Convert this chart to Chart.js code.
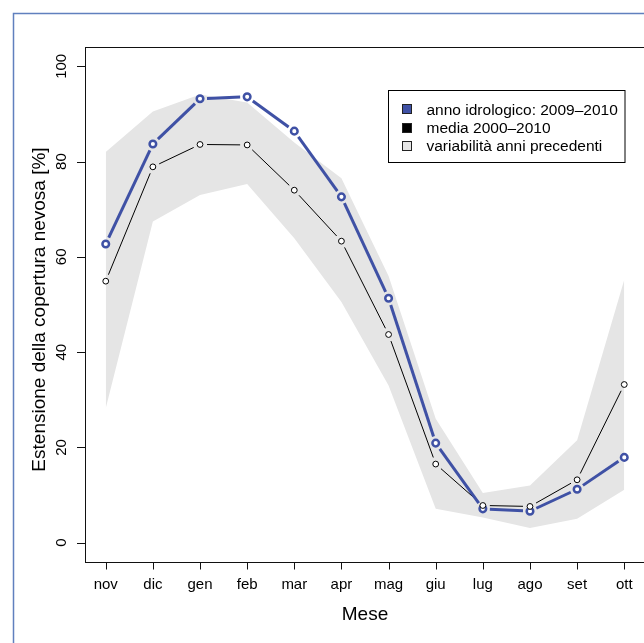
<!DOCTYPE html>
<html>
<head>
<meta charset="utf-8">
<script src="https://cdn.jsdelivr.net/npm/chart.js@4/dist/chart.umd.min.js"></script>
<style>
html,body{margin:0;padding:0;background:#fff;overflow:hidden;}
#wrap{position:absolute;left:0;top:0;width:700px;height:643px;}
</style>
</head>
<body>
<div id="wrap"><canvas id="c" width="700" height="643"></canvas></div>
<script>
// ---- data ----
const months = ["nov","dic","gen","feb","mar","apr","mag","giu","lug","ago","set","ott"];
const anno2009_2010 = [62.7, 83.7, 93.2, 93.6, 86.4, 72.6, 51.3, 20.9, 7.1, 6.6, 11.2, 17.9];
const media2000_2010 = [54.9, 78.9, 83.6, 83.5, 74.0, 63.3, 43.7, 16.5, 7.8, 7.6, 13.2, 33.2];
const bandUpper = [82.0, 90.5, 94.1, 92.4, 84.0, 76.5, 56.0, 26.0, 10.4, 12.0, 21.5, 55.2];
const bandLower = [28.2, 67.4, 73.0, 75.3, 63.9, 50.5, 33.0, 7.1, 5.3, 3.1, 5.0, 11.1];
const yTicks = [0, 20, 40, 60, 80, 100];
const legendLabels = ["anno idrologico: 2009\u20132010", "media 2000\u20132010", "variabilit\u00e0 anni precedenti"];
const xTitle = "Mese";
const yTitle = "Estensione della copertura nevosa [%]";

const BLUE = "#3f51a5";
const GRAY = "#e5e5e5";
const FONT = '"Liberation Sans", Arial, Helvetica, sans-serif';

const toXY = arr => arr.map((v, i) => ({x: i + 1, y: v}));

const rPlugin = {
  id: 'rdecor',
  afterDatasetsDraw(chart) {
    const ctx = chart.ctx;
    const gap = 7;
    const drawGapped = (idx, color, width) => {
      const pts = chart.getDatasetMeta(idx).data;
      ctx.save();
      ctx.strokeStyle = color;
      ctx.lineWidth = width;
      ctx.lineCap = 'butt';
      for (let i = 0; i < pts.length - 1; i++) {
        const p = pts[i], q = pts[i + 1];
        const dx = q.x - p.x, dy = q.y - p.y;
        const d = Math.hypot(dx, dy);
        if (d <= 2 * gap) continue;
        const ux = dx / d, uy = dy / d;
        ctx.beginPath();
        ctx.moveTo(p.x + ux * gap, p.y + uy * gap);
        ctx.lineTo(q.x - ux * gap, q.y - uy * gap);
        ctx.stroke();
      }
      ctx.restore();
    };
    drawGapped(2, '#000', 1);
    drawGapped(3, BLUE, 3);
  },
  afterDraw(chart) {
    const ctx = chart.ctx;
    const a = chart.chartArea;
    const xs = chart.scales.x, ys = chart.scales.y;
    ctx.save();
    // outer figure border
    ctx.strokeStyle = 'rgb(96,128,190)';
    ctx.lineWidth = 1.5;
    ctx.strokeRect(13.5, 13.5, 760, 760);
    // plot box
    ctx.strokeStyle = '#111';
    ctx.lineWidth = 1;
    ctx.strokeRect(Math.round(a.left) + 0.5, Math.round(a.top) + 0.5, a.right - a.left, Math.round(a.bottom) - Math.round(a.top));
    // y ticks and labels
    ctx.fillStyle = '#000';
    ctx.font = '15px ' + FONT;
    yTicks.forEach(v => {
      const py = Math.round(ys.getPixelForValue(v)) + 0.5;
      ctx.beginPath();
      ctx.moveTo(a.left - 8, py);
      ctx.lineTo(a.left, py);
      ctx.stroke();
      ctx.save();
      ctx.translate(65.5, ys.getPixelForValue(v));
      ctx.rotate(-Math.PI / 2);
      ctx.textAlign = 'center';
      ctx.textBaseline = 'alphabetic';
      ctx.fillText(String(v), 0, 0);
      ctx.restore();
    });
    // x ticks and labels
    const by = Math.round(a.bottom) + 0.5;
    months.forEach((m, i) => {
      const px = Math.round(xs.getPixelForValue(i + 1)) + 0.5;
      ctx.beginPath();
      ctx.moveTo(px, by);
      ctx.lineTo(px, by + 7);
      ctx.stroke();
      ctx.textAlign = 'center';
      ctx.textBaseline = 'alphabetic';
      ctx.fillText(m, xs.getPixelForValue(i + 1), 589);
    });
    // axis titles
    ctx.font = '19px ' + FONT;
    ctx.textAlign = 'center';
    ctx.fillText(xTitle, (a.left + a.right) / 2, 620);
    ctx.save();
    ctx.translate(44.5, 309.5);
    ctx.rotate(-Math.PI / 2);
    ctx.fillText(yTitle, 0, 0);
    ctx.restore();
    // legend
    ctx.lineWidth = 1;
    ctx.strokeStyle = '#000';
    ctx.fillStyle = '#fff';
    ctx.fillRect(388.5, 90.5, 236.5, 72);
    ctx.strokeRect(388.5, 90.5, 236.5, 72);
    const fills = [BLUE, '#000', GRAY];
    const rows = [109.3, 127.6, 145.9];
    ctx.font = '15.5px ' + FONT;
    ctx.textAlign = 'left';
    legendLabels.forEach((t, i) => {
      const cy = rows[i];
      ctx.fillStyle = fills[i];
      ctx.fillRect(402.5, Math.round(cy - 5) + 0.5, 9, 9);
      ctx.strokeStyle = '#222';
      ctx.strokeRect(402.5, Math.round(cy - 5) + 0.5, 9, 9);
      ctx.fillStyle = '#000';
      ctx.fillText(t, 426.5, cy + 5.5);
    });
    ctx.restore();
  }
};

new Chart(document.getElementById('c'), {
  type: 'line',
  data: {
    datasets: [
      {label: 'upper', data: toXY(bandUpper), borderColor: 'rgba(0,0,0,0)', borderWidth: 0, pointRadius: 0, backgroundColor: GRAY, fill: '+1', tension: 0},
      {label: 'lower', data: toXY(bandLower), borderColor: 'rgba(0,0,0,0)', borderWidth: 0, pointRadius: 0, fill: false, tension: 0},
      {label: legendLabels[1], data: toXY(media2000_2010), showLine: false, pointRadius: 2.9, pointBorderWidth: 1, pointBorderColor: '#000', pointBackgroundColor: '#fff', borderColor: '#000'},
      {label: legendLabels[0], data: toXY(anno2009_2010), showLine: false, pointRadius: 3.3, pointBorderWidth: 2.5, pointBorderColor: BLUE, pointBackgroundColor: '#fff', borderColor: BLUE}
    ]
  },
  options: {
    responsive: false,
    animation: false,
    devicePixelRatio: 1,
    layout: {padding: {left: 85, top: 47.3, right: 55, bottom: 81.3}},
    scales: {
      x: {type: 'linear', min: 0.56, max: 12.44, display: false},
      y: {type: 'linear', min: -4, max: 104, display: false}
    },
    plugins: {
      legend: {display: false},
      tooltip: {enabled: false},
      filler: {drawTime: 'beforeDatasetsDraw'}
    },
    events: []
  },
  plugins: [rPlugin]
});
</script>
</body>
</html>
